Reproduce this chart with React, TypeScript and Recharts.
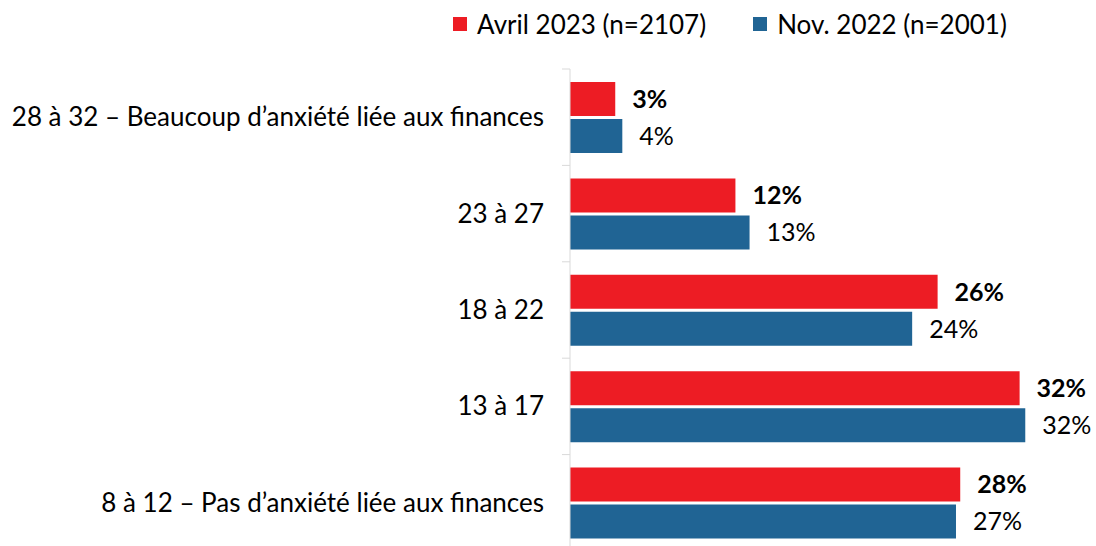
import { BarChart, Bar, XAxis, YAxis, Legend, LabelList } from 'recharts';

const categories = [
  '28 à 32 – Beaucoup d’anxiété liée aux finances',
  '23 à 27',
  '18 à 22',
  '13 à 17',
  '8 à 12 – Pas d’anxiété liée aux finances',
];
const avril2023 = [3.2, 11.7, 26.0, 31.8, 27.6];
const nov2022 = [3.7, 12.7, 24.2, 32.2, 27.3];
const seriesNames = ['Avril 2023 (n=2107)', 'Nov. 2022 (n=2001)'];

const RED = '#ED1C24';
const BLUE = '#206494';
const FONT = 'Lato, "Open Sans", sans-serif';

const data = categories.map((name, i) => ({ name, avril: avril2023[i], nov: nov2022[i] }));

const W = 1096;
const H = 552;
const margin = { top: 69, right: 17, bottom: 1, left: 0 };
const band = (H - margin.top - margin.bottom) / categories.length;

function CategoryTick(props: any) {
  const { x, y, payload, index } = props;
  return (
    <g>
      <line x1={x - 8} x2={x} y1={y - band / 2} y2={y - band / 2} stroke="#d9d9d9" />
      {index === categories.length - 1 && (
        <line x1={x - 8} x2={x} y1={y + band / 2} y2={y + band / 2} stroke="#d9d9d9" />
      )}
      <text x={x - 26} y={y} dy={9} textAnchor="end" fontSize={26} fill="#000" fontFamily={FONT}>
        {payload.value}
      </text>
    </g>
  );
}

function LegendContent() {
  const colors = [RED, BLUE];
  return (
    <div style={{ display: 'flex', justifyContent: 'center', fontFamily: FONT, fontSize: 26, color: '#000' }}>
      {seriesNames.map((n, i) => (
        <div key={n} style={{ display: 'flex', alignItems: 'center', marginRight: i === 0 ? 47 : 0 }}>
          <span style={{ display: 'inline-block', width: 14, height: 14, background: colors[i], marginRight: 10 }} />
          <span>{n}</span>
        </div>
      ))}
    </div>
  );
}

const fmt = (v: any) => `${Math.round(Number(v))}%`;

export default function App() {
  return (
    <div style={{ position: 'absolute', left: 0, top: 0, width: W, height: 546, overflow: 'hidden', background: '#fff' }}>
      <BarChart
        width={W}
        height={H}
        data={data}
        layout="vertical"
        margin={margin}
        barSize={34}
        barGap={3}
      >
        <XAxis type="number" domain={[0, 36]} hide />
        <YAxis
          type="category"
          dataKey="name"
          width={570}
          axisLine={{ stroke: '#d9d9d9' }}
          tickLine={false}
          tickSize={0}
          tickMargin={0}
          tick={<CategoryTick />}
          interval={0}
        />
        <Legend
          verticalAlign="middle"
          align="center"
          content={<LegendContent />}
          wrapperStyle={{ top: 8, left: 430, width: 600 }}
        />
        <Bar dataKey="avril" name={seriesNames[0]} fill={RED} isAnimationActive={false}>
          <LabelList
            dataKey="avril"
            position="right"
            offset={17}
            formatter={fmt}
            style={{ fontFamily: FONT, fontSize: 25, fontWeight: 700, fill: '#000' }}
          />
        </Bar>
        <Bar dataKey="nov" name={seriesNames[1]} fill={BLUE} isAnimationActive={false}>
          <LabelList
            dataKey="nov"
            position="right"
            offset={17}
            formatter={fmt}
            style={{ fontFamily: FONT, fontSize: 25, fill: '#000' }}
          />
        </Bar>
      </BarChart>
    </div>
  );
}
